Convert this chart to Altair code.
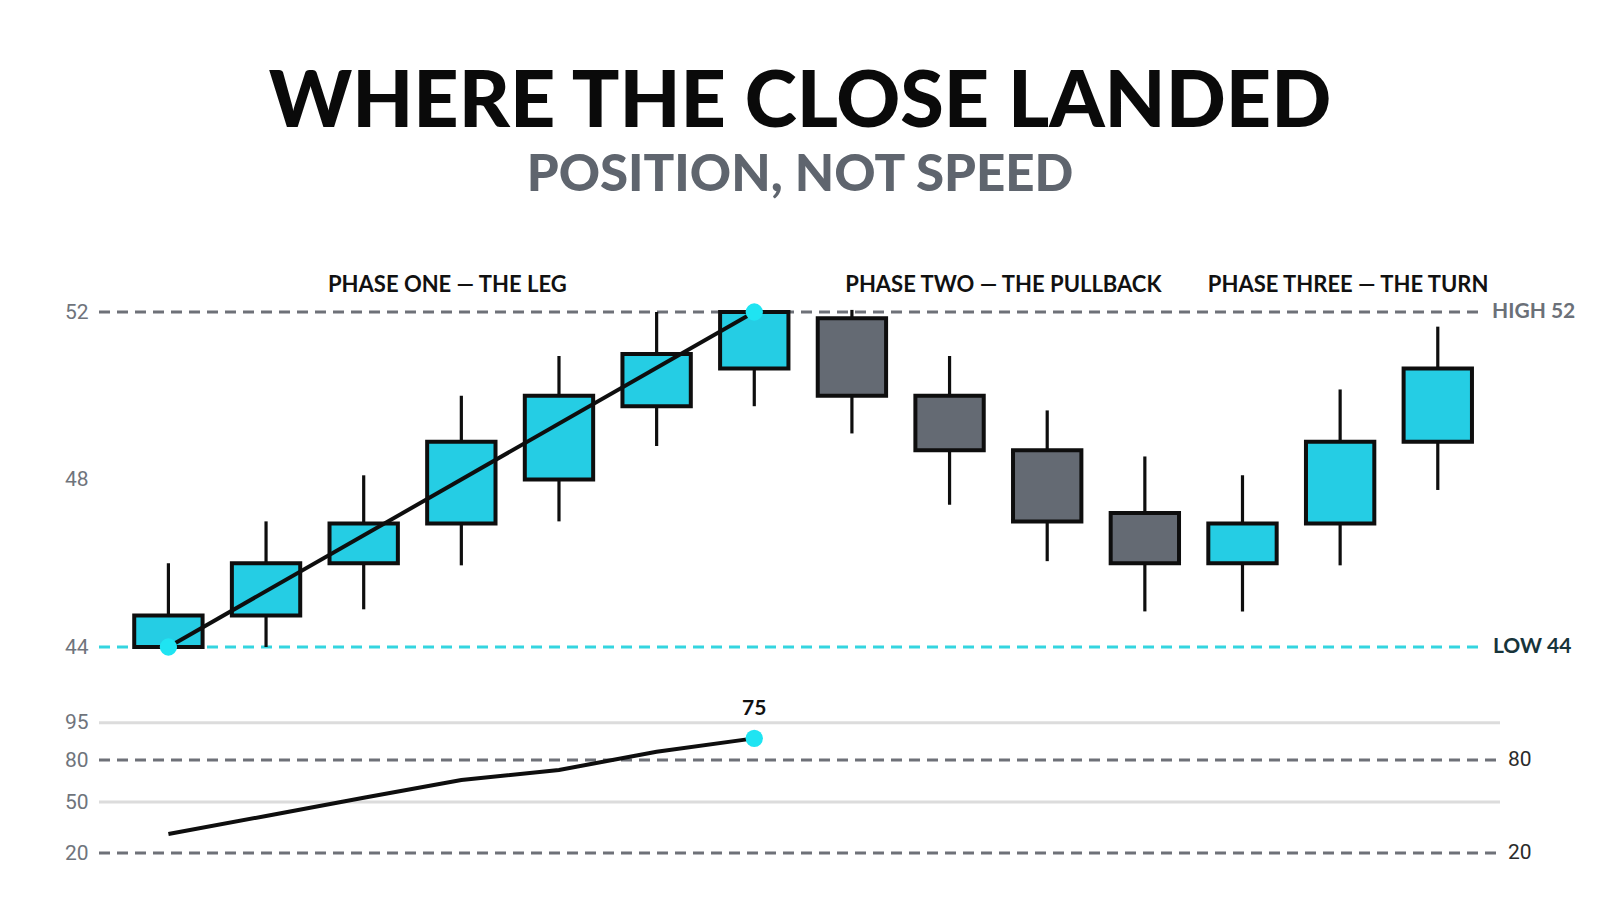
import altair as alt
import pandas as pd

# ---------------- data ----------------
idx = list(range(1, 15))
opens = [44.0, 44.75, 46.0, 46.95, 48.0, 49.75, 50.65, 51.85, 50.0, 48.7, 47.2, 46.0, 46.95, 48.9]
closes = [44.75, 46.0, 46.95, 48.9, 50.0, 51.0, 52.0, 50.0, 48.7, 47.0, 46.0, 46.95, 48.9, 50.65]
highs = [46.0, 47.0, 48.1, 50.0, 50.95, 52.0, 52.0, 52.05, 50.95, 49.65, 48.55, 48.1, 50.15, 51.65]
lows = [44.0, 44.0, 44.9, 45.95, 47.0, 48.8, 49.75, 49.1, 47.4, 46.05, 44.85, 44.85, 45.95, 47.75]

leg_idx = [1, 7]
leg_price = [44.0, 52.0]

osc_idx = [1, 2, 3, 4, 5, 6, 7]
osc_vals = [31.2, 41.8, 53.1, 65.7, 72.9, 83.3, 88.7]
osc_label = ["75"]

phase_names = ["PHASE ONE \u2014 THE LEG", "PHASE TWO \u2014 THE PULLBACK", "PHASE THREE \u2014 THE TURN"]
phase_start = [1, 8, 12]
phase_end = [7, 11, 14]

price_ticks = [44, 48, 52]
high_level = [52]
high_label = ["HIGH 52"]
low_level = [44]
low_label = ["LOW 44"]

osc_ticks = [20, 50, 80, 95]
osc_grid = [95, 50]
osc_dashed = [80, 20]
osc_dashed_labels = ["80", "20"]

# ---------------- styling ----------------
W, H = 1392, 630
CYAN = "#25cde4"
GRAY_BODY = "#646a73"
DOT = "#1fe4f2"
INK = "#0e0e0e"
DASH_GRAY = "#6e7178"
LOW_CYAN = "#34d5e0"
phase_dx = [-14, 5, 8]

x_scale = alt.Scale(domain=[0.2892, 14.545], nice=False, zero=False)
p_scale = alt.Scale(domain=[44, 52], range=[407, 72], nice=False, zero=False)
o_scale = alt.Scale(domain=[20, 50, 80, 95], range=[613, 562, 520, 482.7], nice=False, zero=False)

axis_style = dict(
    title=None, domain=False, ticks=False, grid=False, orient="left",
    labelFont="Roboto", labelFontSize=21, labelColor="#6f747c", labelPadding=11,
)
P_AXIS = alt.Axis(values=price_ticks, **axis_style)
O_AXIS = alt.Axis(values=osc_ticks, **axis_style)


def PY(field):
    return alt.Y(field, scale=p_scale, axis=P_AXIS)


def OY(field):
    return alt.Y(field, scale=o_scale, axis=O_AXIS)


candles = pd.DataFrame({"i": idx, "open": opens, "close": closes, "high": highs, "low": lows})
candles["dir"] = ["up" if c >= o else "down" for o, c in zip(opens, closes)]

X = alt.X("i:Q", scale=x_scale, axis=None)

# ----- price panel -----
high_df = pd.DataFrame({"v": high_level, "t": high_label})
low_df = pd.DataFrame({"v": low_level, "t": low_label})

high_rule = alt.Chart(high_df).mark_rule(
    color=DASH_GRAY, strokeWidth=3, strokeDash=[11, 7]
).encode(y=PY("v:Q"), x=alt.value(0), x2=alt.value(1384))

low_rule = alt.Chart(low_df).mark_rule(
    color=LOW_CYAN, strokeWidth=3, strokeDash=[11, 7]
).encode(y=PY("v:Q"), x=alt.value(0), x2=alt.value(1384))

high_text = alt.Chart(high_df).mark_text(
    align="left", baseline="middle", font="Lato", fontWeight="bold", fontSize=21, color="#6b7078"
).encode(y=PY("v:Q"), x=alt.value(1393), text="t:N")

low_text = alt.Chart(low_df).mark_text(
    align="left", baseline="middle", font="Lato", fontWeight="bold", fontSize=21, color="#17343a"
).encode(y=PY("v:Q"), x=alt.value(1394), text="t:N")

wicks = alt.Chart(candles).mark_rule(color=INK, strokeWidth=3.2).encode(
    x=X, y=PY("low:Q"), y2="high:Q"
)

bodies = alt.Chart(candles).transform_calculate(
    x0="datum.i - 0.35", x1="datum.i + 0.35"
).mark_rect(stroke=INK, strokeWidth=4).encode(
    x=alt.X("x0:Q", scale=x_scale, axis=None),
    x2="x1:Q",
    y=PY("open:Q"),
    y2="close:Q",
    fill=alt.Fill("dir:N", scale=alt.Scale(domain=["up", "down"], range=[CYAN, GRAY_BODY]), legend=None),
)

leg_df = pd.DataFrame({"i": leg_idx, "p": leg_price})
leg_line = alt.Chart(leg_df).mark_line(color=INK, strokeWidth=4).encode(x=X, y=PY("p:Q"))
leg_dots = alt.Chart(leg_df).mark_circle(color=DOT, size=300, opacity=1).encode(x=X, y=PY("p:Q"))

phase_df = pd.DataFrame({"name": phase_names, "s": phase_start, "e": phase_end})
phase_marks = []
for k in range(len(phase_names)):
    phase_marks.append(
        alt.Chart(phase_df.iloc[[k]]).transform_calculate(
            c="(datum.s + datum.e) / 2"
        ).mark_text(
            baseline="middle", align="center", font="Lato", fontWeight="bold",
            fontSize=22, color="#111111", dx=phase_dx[k],
        ).encode(x=alt.X("c:Q", scale=x_scale, axis=None), y=alt.value(45), text="name:N")
    )

price_layer = alt.layer(
    high_rule, low_rule, wicks, bodies, leg_line, leg_dots, high_text, low_text, *phase_marks
)

# ----- oscillator panel -----
grid = alt.Chart(pd.DataFrame({"v": osc_grid})).mark_rule(color="#dcdcdc", strokeWidth=3).encode(
    y=OY("v:Q"), x=alt.value(0), x2=alt.value(1401)
)
dash_df = pd.DataFrame({"v": osc_dashed, "t": osc_dashed_labels})
dashed = alt.Chart(dash_df).mark_rule(
    color=DASH_GRAY, strokeWidth=3, strokeDash=[11, 7]
).encode(y=OY("v:Q"), x=alt.value(0), x2=alt.value(1401))
dashed_text = alt.Chart(dash_df).mark_text(
    align="left", baseline="middle", font="Roboto", fontSize=21, color="#2b2b2b"
).encode(y=OY("v:Q"), x=alt.value(1409), text="t:N")

osc_df = pd.DataFrame({"i": osc_idx, "o": osc_vals})
osc_line = alt.Chart(osc_df).mark_line(color=INK, strokeWidth=4).encode(x=X, y=OY("o:Q"))
last_df = pd.DataFrame({"i": [osc_idx[-1]], "o": [osc_vals[-1]], "t": osc_label})
osc_dot = alt.Chart(last_df).mark_circle(color=DOT, size=300, opacity=1).encode(x=X, y=OY("o:Q"))
osc_text = alt.Chart(last_df).mark_text(
    dy=-29, baseline="middle", font="Lato", fontWeight="bold", fontSize=21, color="#111111"
).encode(x=X, y=OY("o:Q"), text="t:N")

osc_layer = alt.layer(grid, dashed, dashed_text, osc_line, osc_dot, osc_text)

chart = alt.layer(price_layer, osc_layer).resolve_scale(y="independent").properties(
    width=W,
    height=H,
    padding={"left": 91, "top": 232, "right": 101, "bottom": 36},
    autosize=alt.AutoSizeParams(type="none"),
    background="white",
    title=alt.TitleParams(
        text="WHERE THE CLOSE LANDED",
        subtitle="POSITION, NOT SPEED",
        anchor="middle",
        frame="group",
        font="Lato",
        fontSize=79,
        fontWeight=900,
        color="#0a0a0a",
        subtitleFont="Lato",
        subtitleFontSize=51,
        subtitleFontWeight=900,
        subtitleColor="#5f656e",
        subtitlePadding=7,
        offset=38,
        dx=5,
    ),
).configure_view(stroke=None)

chart.save("out.html", embed_options={"renderer": "svg", "actions": False})
